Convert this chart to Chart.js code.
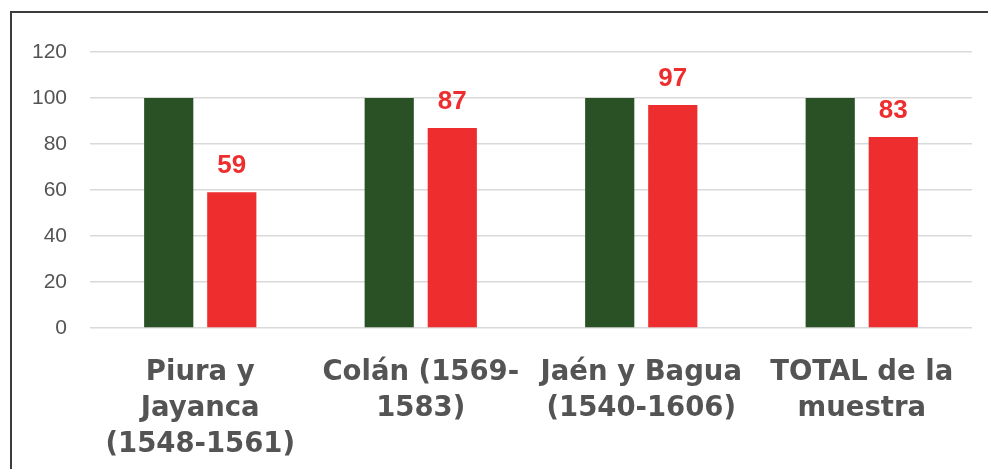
<!DOCTYPE html>
<html>
<head>
<meta charset="utf-8">
<script src="https://cdn.jsdelivr.net/npm/chart.js@4.4.0/dist/chart.umd.min.js"></script>
<style>
    html, body { margin: 0; padding: 0; background: #fff; }
    #wrap { position: relative; width: 988px; height: 469px; overflow: hidden; }
    #frame {
        position: absolute; left: 10px; top: 11px; width: 1000px; height: 500px;
        border-left: 2px solid #3c3c3c; border-top: 2px solid #3c3c3c;
    }
    canvas { position: absolute; left: 0; top: 0; }
</style>
</head>
<body>
<div id="wrap">
    <div id="frame"></div>
    <canvas id="chart" width="988" height="469"></canvas>
</div>
<script>
const categories = [
    ['Piura y', 'Jayanca', '(1548-1561)'],
    ['Colán (1569-', '1583)'],
    ['Jaén y Bagua', '(1540-1606)'],
    ['TOTAL de la', 'muestra']
]
const baseValues = [100, 100, 100, 100]
const sampleValues = [59, 87, 97, 83]
const yTicks = [0, 20, 40, 60, 80, 100, 120]

const green = 'rgb(42, 80, 37)'
const red = 'rgb(238, 46, 46)'
const grey = '#545454'

// numbers above the red bars
const redLabels = {
    id: 'redLabels',
    afterDatasetsDraw(chart) {
        const ctx = chart.ctx
        const meta = chart.getDatasetMeta(1)
        ctx.save()
        ctx.fillStyle = red
        ctx.font = 'bold 26px "Liberation Sans", Arial, sans-serif'
        ctx.textAlign = 'center'
        ctx.textBaseline = 'alphabetic'
        meta.data.forEach((bar, i) => {
            ctx.fillText(String(sampleValues[i]), bar.x, bar.y - 19)
        })
        ctx.restore()
    }
}

const config = {
    type: 'bar',
    data: {
        labels: categories,
        datasets: [
            {
                label: 'base',
                data: baseValues,
                backgroundColor: green,
                borderWidth: 0,
                categoryPercentage: 0.572,
                barPercentage: 0.78,
            },
            {
                label: 'muestra',
                data: sampleValues,
                backgroundColor: red,
                borderWidth: 0,
                categoryPercentage: 0.572,
                barPercentage: 0.78,
            }
        ]
    },
    options: {
        responsive: false,
        animation: false,
        layout: {
            padding: { left: 0, right: 16, top: 52, bottom: 0 }
        },
        plugins: {
            legend: { display: false },
            title: { display: false },
            tooltip: { enabled: false }
        },
        scales: {
            x: {
                grid: { display: false },
                border: { display: false },
                ticks: {
                    color: grey,
                    font: { family: '"DejaVu Sans", Verdana, sans-serif', size: 27.5, weight: 'bold', lineHeight: 1.31 },
                    padding: 19,
                    maxRotation: 0,
                    autoSkip: false
                },
                afterFit(scale) { scale.height = 141 }
            },
            y: {
                min: 0,
                max: 120,
                afterBuildTicks(scale) {
                    scale.ticks = yTicks.map(v => ({ value: v }))
                },
                grid: { color: '#d9d9d9', lineWidth: 1.5, drawTicks: false },
                border: { display: false },
                ticks: {
                    color: grey,
                    font: { family: '"Liberation Sans", Arial, sans-serif', size: 21 },
                    padding: 23
                },
                afterFit(scale) { scale.width = 90 }
            }
        }
    },
    plugins: [redLabels]
}

let chart = new Chart(document.getElementById('chart'), config)
</script>
</body>
</html>
